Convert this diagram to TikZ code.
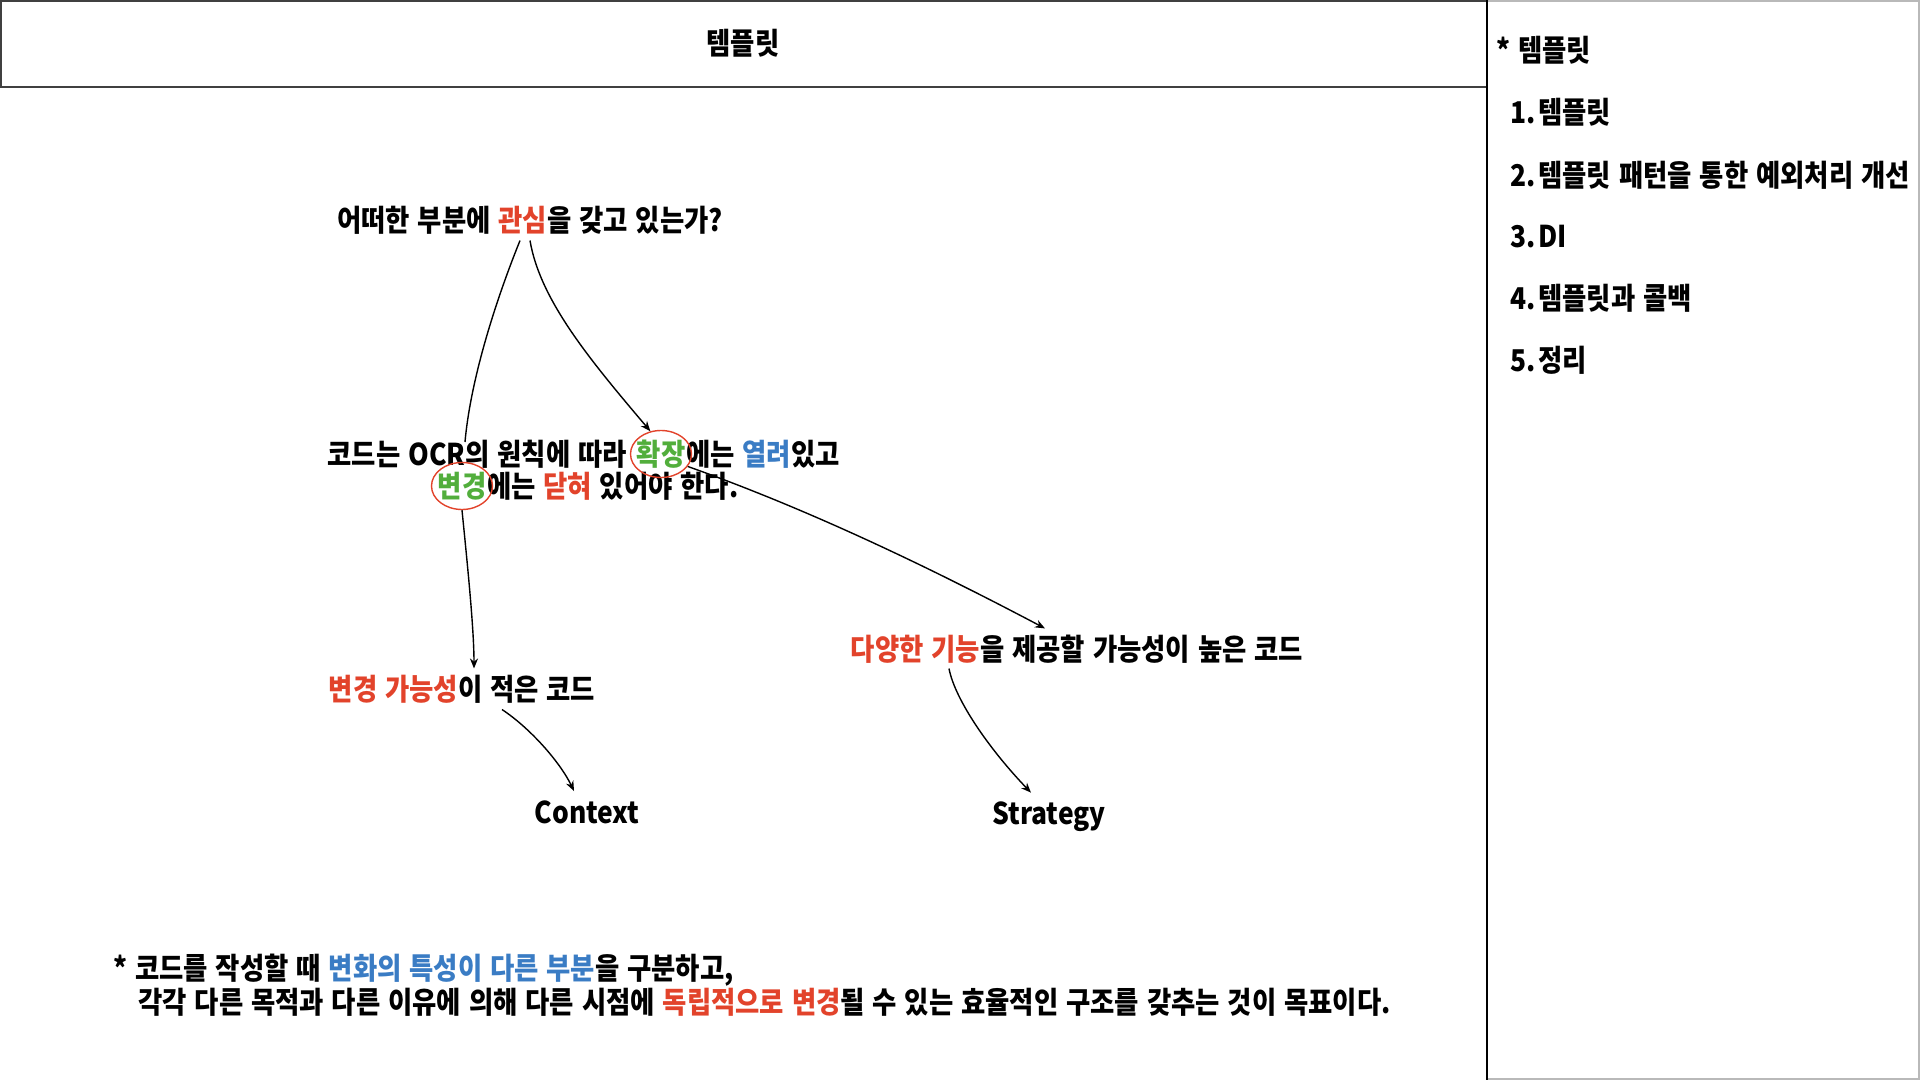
\documentclass[tikz,border=0pt]{standalone}
\usepackage{fontspec}
\setmainfont{Noto Sans CJK KR}[FakeStretch=0.88, WordSpace=1.3, BoldFont={Noto Sans CJK KR Black}]
\usetikzlibrary{arrows.meta,shapes.geometric}
\definecolor{kred}{HTML}{E2432B}
\definecolor{kgreen}{HTML}{52AE3C}
\definecolor{kblue}{HTML}{3A7CC4}
\newcommand\numbox[1]{\makebox[14pt][l]{#1}}
\begin{document}
\begin{tikzpicture}[x=0.5pt,y=-0.5pt,
  txt/.style={inner sep=0pt, font=\fontsize{15}{18}\selectfont\bfseries},
  side/.style={txt, anchor=west},
  arr/.style={-{Stealth[length=5pt,width=4pt]}, line width=0.7pt},
  ln/.style={line width=0.7pt},
  ring/.style={ellipse, draw=kred, line width=0.7pt, minimum width=30.5pt, minimum height=23.5pt, inner sep=0pt}]
\useasboundingbox (0,0) rectangle (1920,1080);
% frames
\draw[line width=0.8pt, black!75] (1,1) rectangle (1487,87);
\draw[line width=0.8pt, gray!55] (1487,1) -- (1919,1) -- (1919,1079) -- (1487,1079);
\draw[line width=0.8pt] (1487,0) -- (1487,1080);
% header
\node[txt] (title) at (743,43) {템플릿};
% side panel
\node[side] (h) at (1496,50) {* 템플릿};
\node[side] (i1) at (1510,112) {\numbox{1.}템플릿};
\node[side] (i2) at (1510,175) {\numbox{2.}템플릿 패턴을 통한 예외처리 개선};
\node[side] (i3) at (1510,237) {\numbox{3.}DI};
\node[side] (i4) at (1510,298) {\numbox{4.}템플릿과 콜백};
\node[side] (i5) at (1510,360) {\numbox{5.}정리};
% main
\node[txt] (q) at (530,220) {어떠한 부분에 \textcolor{kred}{관심}을 갖고 있는가?};
\node[txt, text=kgreen] (hw) at (661,454) {확장};
\node[txt, anchor=base east] (p1a) at (hw.base west) {코드는 OCR의 원칙에 따라\kern0.3em};
\node[txt, anchor=base west] (p1b) at (hw.base east) {에는 \textcolor{kblue}{열려}있고};
\node[txt, text=kgreen] (bk) at (462,486) {변경};
\node[txt, anchor=base west] (p2b) at (bk.base east) {에는 \textcolor{kred}{닫혀} 있어야 한다.};
\node[ring] (e1) at (hw) {};
\node[ring] (e2) at (bk) {};
\coordinate (qh) at (465,442);
\node[txt] (low) at (462,689) {\textcolor{kred}{변경 가능성}이 적은 코드};
\node[txt] (high) at (1077,649) {\textcolor{kred}{다양한 기능}을 제공할 가능성이 높은 코드};
\node[txt] (ctx) at (587,812) {Context};
\node[txt] (str) at (1049,817) {Strategy};
% footer
\node[txt, anchor=west] (f1) at (113,970) {* 코드를 작성할 때 \textcolor{kblue}{변화의 특성이 다른 부분}을 구분하고,};
\node[txt, anchor=west] (f2) at (138,1002) {각각 다른 목적과 다른 이유에 의해 다른 시점에 \textcolor{kred}{독립적으로 변경}될 수 있는 효율적인 구조를 갖추는 것이 목표이다.};
% connectors
\draw[ln] ([xshift=-5pt,yshift=-3pt]q.south) .. controls (492,310) and (470,385) .. (qh);
\draw[arr] ([yshift=-3pt]q.south) .. controls (540,300) and (590,360) .. (e1.115);
\draw[arr] (e1.-25) .. controls (805,508) and (925,565) .. ([xshift=-16pt,yshift=3pt]high.north);
\draw[arr] (e2.south) .. controls (468,570) and (474,630) .. ([xshift=6pt,yshift=3pt]low.north);
\draw[arr] ([xshift=20pt,yshift=-3pt]low.south) .. controls (530,728) and (560,762) .. ([xshift=-6.5pt,yshift=4.5pt]ctx.north);
\draw[arr] ([xshift=-64pt,yshift=-2.5pt]high.south) .. controls (955,700) and (990,750) .. ([xshift=-9pt,yshift=4.5pt]str.north);
\end{tikzpicture}
\end{document}
